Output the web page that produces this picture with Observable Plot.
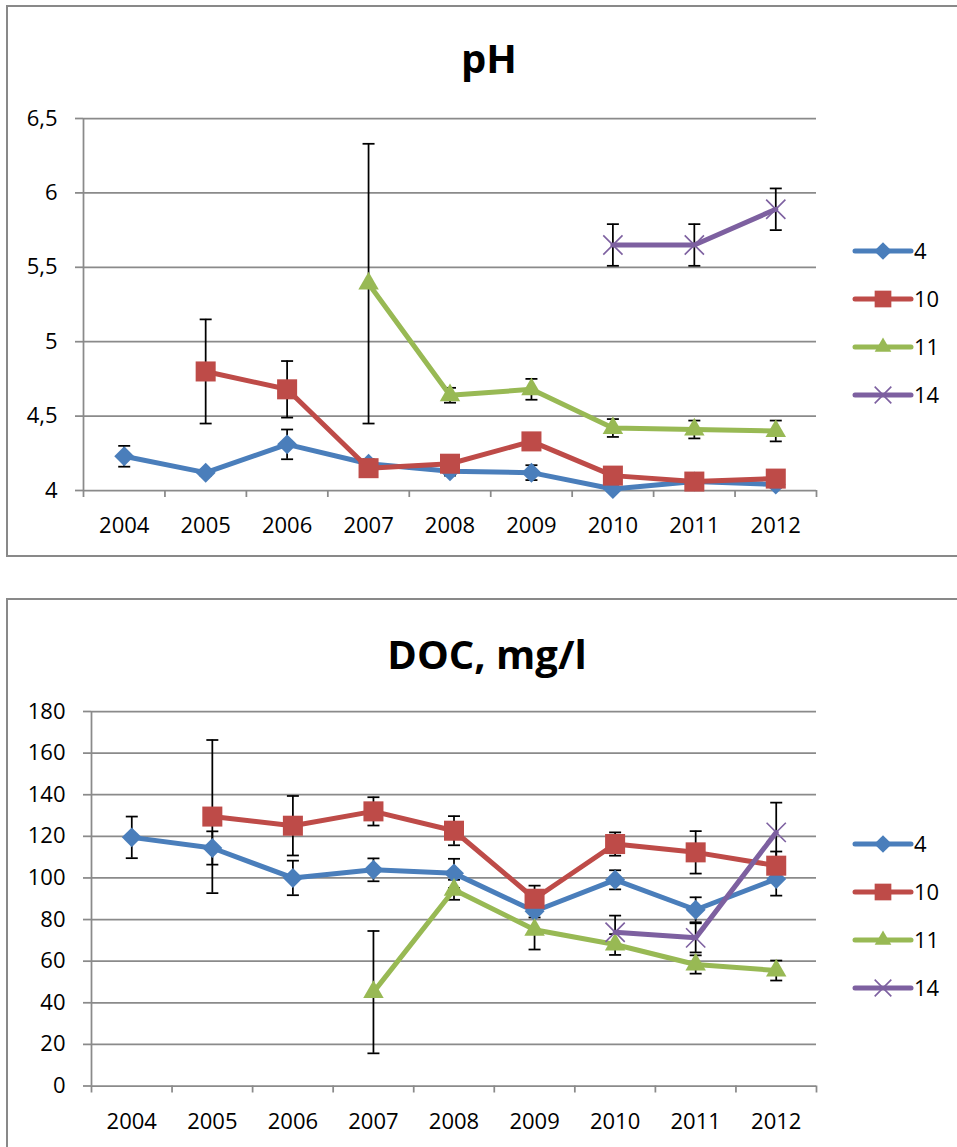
<!DOCTYPE html>
<html>
<head>
<meta charset="utf-8">
<script src="https://cdn.jsdelivr.net/npm/d3@7"></script>
<script src="https://cdn.jsdelivr.net/npm/@observablehq/plot@0.6"></script>
<style>
  body { margin: 0; background: #fff; font-family: "Open Sans", sans-serif; }
  #page { position: relative; width: 957px; height: 1147px; overflow: hidden; background: #fff; }
  .chart { position: absolute; left: 0; }
  .frame { position: absolute; left: 6px; width: 1000px; border: 2.5px solid #898989; box-sizing: border-box; }
  #overlay { position: absolute; left: 0; top: 0; }
</style>
</head>
<body>
<div id="page"></div>
<script>
// Sampling years and stations
const years = [2004, 2005, 2006, 2007, 2008, 2009, 2010, 2011, 2012];
const stations = ["4", "10", "11", "14"];
const stationColors = ["#4A7EBB", "#BE4B48", "#98B954", "#7D60A0"];
const stationSymbols = ["diamond2", "square", "triangle", "times"];

// pH: annual means and error-bar half-widths per station
const ph4 = [4.23, 4.12, 4.31, 4.18, 4.13, 4.12, 4.01, 4.06, 4.04];
const ph4Err = [0.07, 0.02, 0.10, 0.03, 0.03, 0.05, 0.02, 0.02, 0.02];
const ph10 = [null, 4.80, 4.68, 4.15, 4.18, 4.33, 4.10, 4.06, 4.08];
const ph10Err = [null, 0.35, 0.19, 0.02, 0.02, 0.02, 0.02, 0.02, 0.02];
const ph11 = [null, null, null, 5.39, 4.64, 4.68, 4.42, 4.41, 4.40];
const ph11Err = [null, null, null, 0.94, 0.05, 0.07, 0.06, 0.06, 0.07];
const ph14 = [null, null, null, null, null, null, 5.65, 5.65, 5.89];
const ph14Err = [null, null, null, null, null, null, 0.14, 0.14, 0.14];
const phTicks = [4, 4.5, 5, 5.5, 6, 6.5];

// DOC (mg/l): annual means and error-bar half-widths per station
const doc4 = [119.5, 114.4, 100.0, 103.9, 102.2, 84.0, 99.1, 84.7, 99.5];
const doc4Err = [10, 8, 8.3, 5.5, 7, 3, 4.6, 6, 8];
const doc10 = [null, 129.5, 125.1, 132.0, 122.7, 90.0, 116.3, 112.3, 105.9];
const doc10Err = [null, 36.8, 14.3, 6.8, 7, 6.3, 5.6, 10.2, 6.8];
const doc11 = [null, null, null, 45.1, 94.3, 75.1, 68.0, 58.4, 55.5];
const doc11Err = [null, null, null, 29.4, 4.8, 9.5, 5, 4.4, 4.8];
const doc14 = [null, null, null, null, null, null, 73.9, 71.2, 121.9];
const doc14Err = [null, null, null, null, null, null, 8, 7, 14.3];
const docTicks = [0, 20, 40, 60, 80, 100, 120, 140, 160, 180];

const GRID = "#8a8a8a";
const FONT = "'Open Sans', sans-serif";

// marker radius for each station symbol (Plot r units)
const markerR = { "4": 9, "10": 11.3, "11": 7.6, "14": 8.8 };

// horizontal cap drawn at both ends of an error bar
const capSymbol = { draw(ctx) { ctx.moveTo(-6, 0); ctx.lineTo(6, 0); } };

function toRows(values, errs, station) {
  return years
    .map((year, i) => ({ year, station, value: values[i], err: errs[i] }))
    .filter(d => d.value != null);
}

const phRows = [
  ...toRows(ph4, ph4Err, "4"), ...toRows(ph10, ph10Err, "10"),
  ...toRows(ph11, ph11Err, "11"), ...toRows(ph14, ph14Err, "14")
];
const docRows = [
  ...toRows(doc4, doc4Err, "4"), ...toRows(doc10, doc10Err, "10"),
  ...toRows(doc11, doc11Err, "11"), ...toRows(doc14, doc14Err, "14")
];

const page = document.getElementById("page");

function drawPanel({ rows, ticks, format, top, height, marginTop, marginBottom, marginLeft }) {
  const boundaries = d3.range(years.length + 1).map(i => years[0] - 0.5 + i);
  const withErr = rows.filter(d => d.err != null);
  const lo = d => d.value - d.err;
  const hi = d => d.value + d.err;

  const seriesMarks = stations.flatMap((s, i) => {
    const data = rows.filter(d => d.station === s);
    const isCross = stationSymbols[i] === "times";
    return [
      Plot.line(data, { x: "year", y: "value", stroke: stationColors[i], strokeWidth: 5, strokeLinejoin: "round" }),
      Plot.dot(data, {
        x: "year", y: "value", symbol: stationSymbols[i], r: markerR[s],
        fill: isCross ? "none" : stationColors[i],
        stroke: isCross ? stationColors[i] : "none",
        strokeWidth: isCross ? 1.6 : 0
      })
    ];
  });

  const chart = Plot.plot({
    width: 957, height, marginTop, marginBottom, marginLeft, marginRight: 141,
    style: { fontFamily: FONT, fontSize: "22px", color: "#000", background: "transparent", overflow: "visible" },
    x: { type: "linear", domain: [boundaries[0], boundaries[boundaries.length - 1]], label: null },
    y: { domain: [ticks[0], ticks[ticks.length - 1]], label: null },
    marks: [
      Plot.gridY(ticks, { stroke: GRID, strokeOpacity: 1, strokeWidth: 1.75 }),
      Plot.ruleX([boundaries[0]], { stroke: GRID, strokeWidth: 1.75 }),
      Plot.axisY(ticks, { tickSize: 8, tickPadding: 18, tickFormat: format, stroke: GRID, strokeWidth: 1.75, fill: "#000", label: null }),
      Plot.axisX(boundaries, { tickSize: 7, tickFormat: () => "", stroke: GRID, strokeWidth: 1.75, label: null }),
      Plot.axisX(years, { tickSize: 0, tickPadding: 27, tickFormat: d => String(d), fill: "#000", label: null }),
      Plot.ruleX(withErr, { x: "year", y1: lo, y2: hi, stroke: "#000", strokeWidth: 1.75 }),
      Plot.dot(withErr, { x: "year", y: lo, symbol: capSymbol, stroke: "#000", strokeWidth: 1.75 }),
      Plot.dot(withErr, { x: "year", y: hi, symbol: capSymbol, stroke: "#000", strokeWidth: 1.75 }),
      ...seriesMarks
    ]
  });
  chart.classList.add("chart");
  chart.style.top = top + "px";
  page.appendChild(chart);
}

drawPanel({
  rows: phRows, ticks: phTicks, format: d => String(d).replace(".", ","),
  top: 0, height: 557, marginTop: 118, marginBottom: 67, marginLeft: 83
});
drawPanel({
  rows: docRows, ticks: docTicks, format: d => String(d),
  top: 599, height: 548, marginTop: 112, marginBottom: 61.5, marginLeft: 91
});

// chart frames
for (const [t, h] of [[5, 552], [598, 600]]) {
  const f = document.createElement("div");
  f.className = "frame";
  f.style.top = t + "px";
  f.style.height = h + "px";
  page.appendChild(f);
}

// titles and legends
const overlay = d3.select(page).append("svg")
  .attr("id", "overlay").attr("width", 957).attr("height", 1147)
  .style("font-family", FONT);

const titles = [
  { text: "pH", x: 489, y: 73 },
  { text: "DOC, mg/l", x: 487, y: 669 }
];
overlay.selectAll("text.title").data(titles).join("text")
  .attr("class", "title")
  .attr("x", d => d.x).attr("y", d => d.y)
  .attr("text-anchor", "middle")
  .attr("font-size", 40).attr("font-weight", 700)
  .text(d => d.text);

const legendSymbols = [d3.symbolDiamond2, d3.symbolSquare, d3.symbolTriangle, d3.symbolTimes];
const legendSizes = [200, 279, 120, 182];

function drawLegend(firstY) {
  const g = overlay.append("g");
  stations.forEach((s, i) => {
    const y = firstY + i * 48;
    const row = g.append("g").attr("transform", `translate(0,${y})`);
    row.append("line").attr("x1", 855).attr("x2", 911).attr("y1", 0).attr("y2", 0)
      .attr("stroke", stationColors[i]).attr("stroke-width", 5).attr("stroke-linecap", "round");
    const isCross = i === 3;
    row.append("path")
      .attr("transform", "translate(883,0)")
      .attr("d", d3.symbol(legendSymbols[i], legendSizes[i])())
      .attr("fill", isCross ? "none" : stationColors[i])
      .attr("stroke", isCross ? stationColors[i] : "none")
      .attr("stroke-width", 1.6);
    row.append("text").attr("x", 914).attr("y", 0).attr("dy", "0.35em")
      .attr("font-size", 22).text(s);
  });
}
drawLegend(251);
drawLegend(844);
</script>
</body>
</html>
